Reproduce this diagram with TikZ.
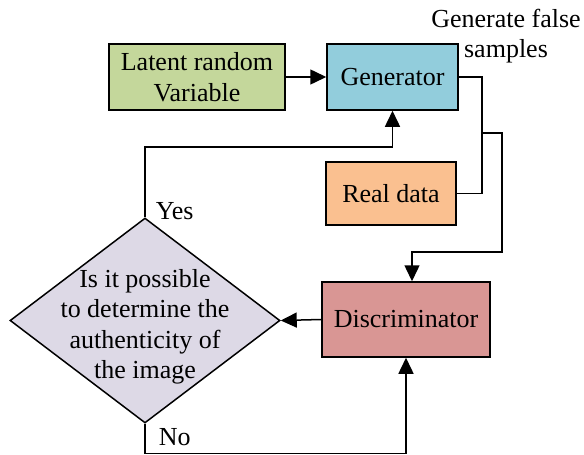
\documentclass[tikz,border=0pt]{standalone}
\usepackage{fontspec}
\setmainfont{Liberation Serif}
\usetikzlibrary{arrows.meta,shapes.geometric}
\definecolor{latentfill}{HTML}{C4D79B}
\definecolor{genfill}{HTML}{92CDDC}
\definecolor{realfill}{HTML}{FAC090}
\definecolor{discfill}{HTML}{D99694}
\definecolor{decfill}{HTML}{DDD9E6}
\begin{document}
\begin{tikzpicture}[x=1pt,y=-1pt,line width=1.5pt,
  txt/.style={font=\fontsize{26}{30.5}\selectfont},
  box/.style={draw,txt,inner sep=0pt,align=center},
  arr/.style={-{Triangle[length=16pt,width=15pt]}},
  lbl/.style={txt,inner sep=0pt,align=center}]
\useasboundingbox (0,0) rectangle (584,455);
% process boxes
\node[box,fill=latentfill,minimum width=176pt,minimum height=66pt] (lat) at (197,77) {Latent random\\Variable};
\node[box,fill=genfill,minimum width=131pt,minimum height=66pt] (gen) at (392.5,77) {Generator};
\node[box,fill=realfill,minimum width=130pt,minimum height=63pt] (real) at (391,193.5) {Real data};
\node[box,fill=discfill,minimum width=168pt,minimum height=75pt] (disc) at (406,319.5) {Discriminator};
% decision
\node[draw,diamond,fill=decfill,inner sep=0pt,minimum width=270pt,minimum height=205pt] (dec) at (145,320.5) {};
\node[lbl] (dectext) at (145,327) {Is it possible\\to determine the\\authenticity of\\the image};
% labels
\node[lbl] (gfs) at (506,36) {Generate false\\samples};
\node[lbl,anchor=west] (yes) at (155,211) {Yes};
\node[lbl,anchor=west] (no) at (158,437) {No};
% bend points
\coordinate (j1) at (482,133);
\coordinate (j2) at (502,252);
\coordinate (ybend) at (145,147);
\coordinate (nbend) at (145,453.5);
% connectors
\draw[arr] (lat.east) -- (gen.west);
\draw (gen.east) -| (j1) |- (real.east);
\draw[arr] (j1) -| (j2) -| ([xshift=6pt]disc.north);
\draw[arr] (disc.west) -- (dec.east);
\draw[arr] (dec.north) -- (ybend) -| (gen.south);
\draw[arr] (dec.south) -- (nbend) -| (disc.south);
\end{tikzpicture}
\end{document}
